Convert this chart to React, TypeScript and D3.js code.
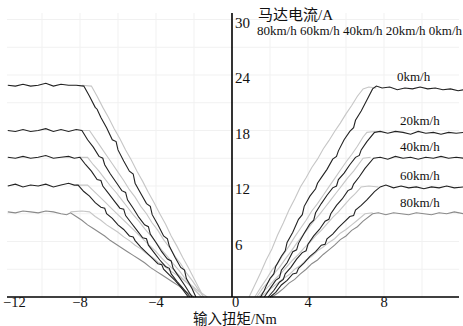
import React from "react";
import * as d3 from "d3";

const W = 463;
const H = 326;

const xTicks = [-12, -8, -4, 0, 4, 8];
const yTicks = [6, 12, 18, 24, 30];
const xGrid = [-10, -8, -6, -4, -2, 2, 4, 6, 8, 10];
const yGrid = [3, 6, 9, 12, 15, 18, 21, 24, 27, 30];
const speedLabels = ["0km/h", "20km/h", "40km/h", "60km/h", "80km/h"];
const speedLabelLevels = [22.6, 17.8, 15.0, 11.9, 9.0];
const legendText = "80km/h 60km/h 40km/h 20km/h 0km/h";
const yTitle = "马达电流/A";
const xTitle = "输入扭矩/Nm";

// measured (dark) curves, positive torque
const r0 = [[1.5,0],[1.7,0.7],[1.8,1.2],[2.0,2.0],[2.2,2.5],[2.3,3.3],[2.6,4.4],[2.8,5.0],[2.9,5.9],[3.2,7.0],[3.5,8.4],[3.7,8.9],[3.8,9.8],[4.1,10.9],[4.4,11.7],[4.5,12.3],[4.7,12.9],[5.0,13.8],[5.3,14.9],[5.5,15.2],[5.6,15.8],[5.9,17.0],[6.2,17.9],[6.4,18.3],[6.5,19.1],[6.8,20.1],[7.1,21.3],[7.4,22.5],[7.6,22.8],[7.9,22.6],[8.3,22.7],[8.7,22.4],[9.1,22.6],[9.5,22.5],[9.9,22.7],[10.3,22.5],[10.7,22.6],[11.1,22.4],[11.5,22.5],[11.9,22.3],[12.2,22.4]];
const r20 = [[1.7,0],[2.0,0.9],[2.3,1.8],[2.5,2.1],[2.6,2.9],[2.9,3.7],[3.2,4.9],[3.4,5.1],[3.5,5.8],[3.8,6.9],[4.1,7.9],[4.3,8.3],[4.4,9.1],[4.7,10.1],[5.0,11.0],[5.3,11.8],[5.5,12.0],[5.6,12.7],[5.9,13.4],[6.2,14.3],[6.5,15.1],[6.7,15.3],[6.8,15.9],[7.1,16.8],[7.5,17.8],[7.8,17.9],[8.2,17.7],[8.6,17.9],[9.0,17.8],[9.4,17.6],[9.8,17.9],[10.2,17.7],[10.6,17.8],[11.0,17.6],[11.4,17.8],[11.8,17.7],[12.2,17.8]];
const r40 = [[1.9,0],[2.2,0.7],[2.5,1.6],[2.7,1.9],[2.8,2.5],[3.1,3.2],[3.4,4.1],[3.7,4.8],[3.9,5.0],[4.0,5.7],[4.3,6.6],[4.6,7.3],[4.9,8.2],[5.1,8.4],[5.2,9.0],[5.5,9.9],[5.8,10.6],[6.1,11.5],[6.3,11.7],[6.4,12.2],[6.7,13.0],[7.0,13.9],[7.45,15.0],[7.8,15.1],[8.2,14.9],[8.6,15.2],[9.0,15.0],[9.4,15.1],[9.8,14.9],[10.2,15.1],[10.6,15.0],[11.0,15.2],[11.4,15.0],[11.8,15.1],[12.2,15.0]];
const r60 = [[2.0,0],[2.3,0.5],[2.6,1.3],[2.9,1.8],[3.2,2.5],[3.4,2.6],[3.5,3.1],[3.8,3.7],[4.1,4.4],[4.4,4.9],[4.7,5.6],[4.9,5.7],[5.0,6.3],[5.3,6.8],[5.6,7.5],[5.9,8.1],[6.2,8.7],[6.4,8.8],[6.5,9.4],[6.8,9.9],[7.1,10.5],[7.5,11.4],[7.8,11.9],[8.1,12.1],[8.5,11.8],[8.9,12.0],[9.3,11.8],[9.7,11.9],[10.1,11.7],[10.5,11.9],[10.9,11.8],[11.3,12.0],[11.7,11.8],[12.2,11.9]];
const r80 = [[2.1,0],[2.4,0.4],[2.7,0.9],[3.0,1.5],[3.3,1.9],[3.6,2.5],[3.9,3.0],[4.2,3.6],[4.5,4.0],[4.8,4.6],[5.1,5.1],[5.4,5.6],[5.7,6.2],[6.0,6.6],[6.3,7.2],[6.6,7.6],[6.9,8.2],[7.4,9.0],[7.7,9.1],[8.1,8.9],[8.5,9.1],[8.9,9.0],[9.3,8.9],[9.7,9.1],[10.1,9.0],[10.5,8.9],[10.9,9.1],[11.3,9.0],[11.7,9.2],[12.2,9.0]];

// reference (light) curves, positive torque
const g0 = [[0.9,0],[1.2,1.3],[1.5,2.6],[1.8,4.0],[2.1,5.2],[2.4,6.7],[2.7,8.0],[3.0,9.4],[3.3,10.6],[3.6,11.9],[3.9,12.9],[4.2,14.0],[4.5,14.9],[4.8,16.0],[5.1,16.9],[5.4,17.9],[5.7,18.8],[6.0,19.8],[6.3,20.7],[6.6,21.7],[6.9,22.5],[7.2,22.7],[7.6,22.6]];
const g20 = [[1.2,0],[1.5,1.0],[1.8,1.9],[2.1,2.9],[2.4,3.6],[2.7,4.6],[3.0,5.5],[3.3,6.5],[3.6,7.4],[3.9,8.3],[4.2,9.3],[4.5,10.1],[4.8,11.0],[5.1,11.9],[5.4,12.8],[5.7,13.7],[6.0,14.6],[6.3,15.4],[6.6,16.3],[6.9,17.3],[7.1,17.8],[7.5,17.9]];
const g40 = [[1.3,0],[1.6,0.9],[1.9,1.6],[2.2,2.5],[2.5,3.2],[2.8,4.1],[3.1,4.9],[3.4,5.8],[3.7,6.6],[4.0,7.4],[4.3,8.2],[4.6,8.9],[4.9,9.7],[5.2,10.5],[5.5,11.3],[5.8,12.1],[6.1,12.9],[6.4,13.6],[6.9,15.0],[7.3,15.1]];
const g60 = [[1.4,0],[1.7,0.7],[2.0,1.3],[2.3,2.0],[2.6,2.6],[2.9,3.3],[3.2,4.0],[3.5,4.6],[3.8,5.3],[4.1,5.9],[4.4,6.6],[4.7,7.2],[5.0,7.9],[5.3,8.6],[5.6,9.2],[5.9,9.9],[6.2,10.6],[6.5,11.2],[6.8,11.9],[7.2,12.0],[7.7,11.9]];
const g80 = [[1.5,0],[1.8,0.5],[2.1,1.0],[2.4,1.5],[2.7,2.0],[3.0,2.4],[3.3,3.0],[3.6,3.4],[3.9,4.0],[4.2,4.4],[4.5,5.0],[4.8,5.4],[5.1,5.9],[5.4,6.3],[5.7,6.9],[6.0,7.3],[6.3,7.8],[6.6,8.3],[7.0,9.0],[7.4,9.1]];

// measured (dark) curves, negative torque
const l0 = [[-11.8,22.9],[-11.4,22.8],[-11.0,23.0],[-10.6,22.8],[-10.2,22.9],[-9.8,23.1],[-9.4,22.8],[-9.0,23.0],[-8.6,22.9],[-8.2,22.9],[-7.8,22.8],[-7.5,21.7],[-7.2,20.5],[-7.1,20.3],[-6.9,19.4],[-6.6,18.3],[-6.3,17.0],[-6.1,16.8],[-6.0,15.9],[-5.7,14.7],[-5.4,13.6],[-5.2,13.3],[-5.1,12.3],[-4.8,11.2],[-4.5,10.1],[-4.3,9.8],[-4.2,8.9],[-3.9,7.8],[-3.6,6.6],[-3.4,6.3],[-3.3,5.5],[-3.0,4.3],[-2.7,3.2],[-2.5,2.9],[-2.4,2.0],[-2.1,0.9],[-1.9,0]];
const l20 = [[-11.8,18.0],[-11.4,17.9],[-11.0,18.1],[-10.6,17.9],[-10.2,18.0],[-9.8,18.2],[-9.4,17.9],[-9.0,18.1],[-8.6,17.9],[-8.2,18.1],[-7.9,18.0],[-7.6,17.0],[-7.3,16.2],[-7.0,15.2],[-6.8,15.0],[-6.7,14.3],[-6.4,13.3],[-6.1,12.4],[-5.8,11.5],[-5.6,11.3],[-5.5,10.5],[-5.2,9.6],[-4.9,8.6],[-4.6,7.8],[-4.4,7.6],[-4.3,6.8],[-4.0,5.9],[-3.7,4.9],[-3.4,4.1],[-3.2,3.9],[-3.1,3.1],[-2.8,2.2],[-2.5,1.3],[-2.1,0]];
const l40 = [[-11.8,15.1],[-11.4,15.0],[-11.0,15.2],[-10.6,15.0],[-10.2,15.1],[-9.8,15.3],[-9.4,15.0],[-9.0,15.1],[-8.6,15.2],[-8.3,15.0],[-8.0,15.1],[-7.7,14.3],[-7.4,13.6],[-7.1,12.7],[-6.9,12.6],[-6.8,12.0],[-6.5,11.2],[-6.2,10.4],[-5.9,9.6],[-5.7,9.5],[-5.6,8.8],[-5.3,8.0],[-5.0,7.2],[-4.7,6.4],[-4.5,6.3],[-4.4,5.6],[-4.1,4.8],[-3.8,4.0],[-3.5,3.3],[-3.3,3.1],[-3.2,2.5],[-2.9,1.7],[-2.6,1.0],[-2.2,0]];
const l60 = [[-11.8,12.0],[-11.4,12.2],[-11.0,11.9],[-10.6,12.1],[-10.2,12.0],[-9.8,12.2],[-9.4,11.9],[-9.0,12.1],[-8.6,12.3],[-8.3,12.1],[-8.1,12.1],[-7.8,11.4],[-7.5,10.9],[-7.2,10.2],[-6.9,9.7],[-6.7,9.6],[-6.6,9.0],[-6.3,8.5],[-6.0,7.8],[-5.7,7.3],[-5.4,6.6],[-5.2,6.5],[-5.1,6.1],[-4.8,5.4],[-4.5,4.8],[-4.2,4.2],[-3.9,3.6],[-3.7,3.5],[-3.6,3.0],[-3.3,2.4],[-3.0,1.8],[-2.7,1.1],[-2.3,0]];
const l80 = [[-11.8,9.2],[-11.4,9.1],[-11.0,9.3],[-10.6,9.2],[-10.2,9.1],[-9.8,9.3],[-9.4,9.2],[-9.0,9.0],[-8.7,8.9],[-8.5,9.1],[-8.2,8.7],[-7.9,8.3],[-7.6,7.8],[-7.3,7.4],[-7.0,7.0],[-6.7,6.6],[-6.4,6.1],[-6.1,5.7],[-5.8,5.3],[-5.5,4.9],[-5.2,4.5],[-4.9,4.1],[-4.6,3.7],[-4.3,3.2],[-4.0,2.8],[-3.7,2.4],[-3.4,2.0],[-3.1,1.6],[-2.8,1.2],[-2.5,0.7],[-2.0,0]];

// reference (light) curves, negative torque
const k0 = [[-7.9,22.9],[-7.4,22.8],[-7.1,21.7],[-6.8,20.5],[-6.5,19.4],[-6.2,18.2],[-5.9,17.1],[-5.6,15.9],[-5.3,14.8],[-5.0,13.6],[-4.7,12.5],[-4.4,11.3],[-4.1,10.2],[-3.8,9.0],[-3.5,7.9],[-3.2,6.6],[-2.9,5.5],[-2.6,4.3],[-2.3,3.2],[-2.0,2.0],[-1.7,0.8],[-1.5,0]];
const k20 = [[-8.0,18.0],[-7.5,18.0],[-7.2,17.1],[-6.9,16.2],[-6.6,15.3],[-6.3,14.4],[-6.0,13.5],[-5.7,12.6],[-5.4,11.6],[-5.1,10.8],[-4.8,9.8],[-4.5,9.0],[-4.2,8.0],[-3.9,7.2],[-3.6,6.2],[-3.3,5.4],[-3.0,4.4],[-2.7,3.6],[-2.4,2.6],[-2.1,1.8],[-1.8,0.9],[-1.5,0]];
const k40 = [[-8.1,15.1],[-7.6,15.1],[-7.3,14.3],[-7.0,13.6],[-6.7,12.8],[-6.4,12.0],[-6.1,11.3],[-5.8,10.5],[-5.5,9.7],[-5.2,8.9],[-4.9,8.2],[-4.6,7.4],[-4.3,6.7],[-4.0,5.9],[-3.7,5.1],[-3.4,4.4],[-3.1,3.6],[-2.8,2.9],[-2.5,2.1],[-2.2,1.4],[-1.9,0.7],[-1.6,0]];
const k60 = [[-8.2,12.1],[-7.6,12.1],[-7.3,11.5],[-7.0,10.9],[-6.7,10.3],[-6.4,9.7],[-6.1,9.1],[-5.8,8.5],[-5.5,7.9],[-5.2,7.3],[-4.9,6.7],[-4.6,6.1],[-4.3,5.5],[-4.0,4.9],[-3.7,4.2],[-3.4,3.6],[-3.1,3.0],[-2.8,2.4],[-2.5,1.8],[-2.2,1.2],[-1.9,0.6],[-1.6,0]];
const k80 = [[-8.5,9.2],[-7.9,9.3],[-7.5,9.2],[-7.2,8.7],[-6.9,8.3],[-6.6,7.8],[-6.3,7.4],[-6.0,7.0],[-5.7,6.5],[-5.4,6.1],[-5.1,5.6],[-4.8,5.2],[-4.5,4.7],[-4.2,4.3],[-3.9,3.8],[-3.6,3.4],[-3.3,2.9],[-3.0,2.5],[-2.7,2.1],[-2.4,1.6],[-2.1,1.2],[-1.8,0.7],[-1.3,0]];

const lightSeries = [g0, g20, g40, g60, g80, k0, k20, k40, k60, k80];
const midSeries = [r80, l80];
const darkSeries = [r0, r20, r40, r60, l0, l20, l40, l60];

const SERIF = "'Liberation Serif', 'Times New Roman', Times, 'DejaVu Serif', 'Noto Sans CJK SC', serif";

export default function App() {
  const x = d3.scaleLinear().domain([-12, 12]).range([4, 460]);
  const y = d3.scaleLinear().domain([0, 30]).range([297, 19.5]);
  const line = d3
    .line<number[]>()
    .x((d) => x(d[0]))
    .y((d) => y(d[1]));

  const serifStyle = { fontFamily: SERIF };

  return (
    <svg
      width={W}
      height={H}
      style={{ position: "absolute", left: 0, top: 0, background: "#fff" }}
    >
      <rect width={W} height={H} fill="#fff" />
      {xGrid.map((v) => (
        <line key={"gx" + v} x1={x(v)} x2={x(v)} y1={13} y2={297} stroke="#f1f1f1" strokeWidth={1} />
      ))}
      {yGrid.map((v) => (
        <line key={"gy" + v} x1={7} x2={459} y1={y(v)} y2={y(v)} stroke="#f1f1f1" strokeWidth={1} />
      ))}
      {lightSeries.map((s, i) => (
        <path key={"l" + i} d={line(s as number[][]) || ""} fill="none" stroke="#c6c6c6" strokeWidth={1.1} />
      ))}
      {midSeries.map((s, i) => (
        <path key={"m" + i} d={line(s as number[][]) || ""} fill="none" stroke="#8a8a8a" strokeWidth={1.1} />
      ))}
      {darkSeries.map((s, i) => (
        <path key={"d" + i} d={line(s as number[][]) || ""} fill="none" stroke="#222" strokeWidth={1.1} />
      ))}
      <line x1={7} x2={459} y1={y(0)} y2={y(0)} stroke="#000" strokeWidth={1.6} />
      <line x1={x(0)} x2={x(0)} y1={13} y2={y(0)} stroke="#000" strokeWidth={1.6} />
      {yTicks.map((v) => (
        <text key={"yt" + v} x={x(0) + 3} y={y(v) + 8} fontSize={15} fill="#111" style={serifStyle}>
          {v}
        </text>
      ))}
      {xTicks.map((v) => (
        <text
          key={"xt" + v}
          x={v === -12 ? x(v) - 1 : x(v)}
          y={307}
          fontSize={14.5}
          fill="#111"
          textAnchor={v === -12 || v === 0 ? "start" : "middle"}
          style={serifStyle}
        >
          {v < 0 ? "\u2212" + Math.abs(v) : v}
        </text>
      ))}
      <text x={258} y={20} fontSize={15} fill="#111" style={serifStyle}>
        {yTitle}
      </text>
      <text x={257} y={35} fontSize={12.5} fill="#111" textLength={205} lengthAdjust="spacingAndGlyphs" style={serifStyle}>
        {legendText}
      </text>
      {speedLabels.map((s, i) => (
        <text key={s} x={i === 0 ? 397 : 400} y={y(speedLabelLevels[i]) - 7} fontSize={13} fill="#111" style={serifStyle}>
          {s}
        </text>
      ))}
      <text x={193} y={323.5} fontSize={14.5} fill="#111" style={serifStyle}>
        {xTitle}
      </text>
    </svg>
  );
}
